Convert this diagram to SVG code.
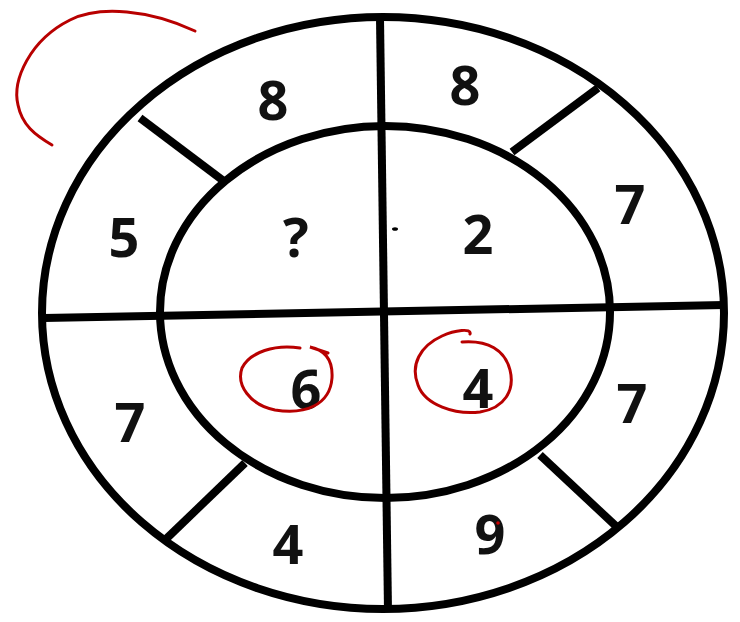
<svg xmlns="http://www.w3.org/2000/svg" width="740" height="622" viewBox="0 0 740 622">
<style>
.k{fill:none;stroke:#000;stroke-width:8;stroke-linecap:butt}
.r{fill:none;stroke:#b80000;stroke-width:3;stroke-linecap:round}
.t{font-family:"Open Sans","Liberation Sans",sans-serif;font-weight:bold;font-size:54px;fill:#111;text-anchor:middle}
</style>
<rect width="740" height="622" fill="#fff"/>
<g id="rings">
<ellipse class="k" cx="383" cy="313" rx="341" ry="296"/>
<ellipse class="k" cx="385" cy="312" rx="225" ry="186"/>
</g>
<g id="lines">
<line class="k" x1="380" y1="18" x2="388" y2="611"/>
<line class="k" x1="44" y1="318" x2="724" y2="305"/>
<line class="k" x1="140" y1="118" x2="225" y2="182"/>
<line class="k" x1="598" y1="88" x2="512" y2="152"/>
<line class="k" x1="245" y1="463" x2="165" y2="540"/>
<line class="k" x1="540" y1="455" x2="618" y2="528"/>
</g>
<g id="numbers">
<text class="t" x="273" y="120">8</text>
<text class="t" x="465" y="105">8</text>
<text class="t" x="124" y="257">5</text>
<text class="t" x="296" y="257">?</text>
<text class="t" x="478" y="254">2</text>
<text class="t" x="630" y="224">7</text>
<text class="t" x="130" y="442">7</text>
<text class="t" x="306" y="409">6</text>
<text class="t" x="478" y="408">4</text>
<text class="t" x="632" y="423">7</text>
<text class="t" x="288" y="564">4</text>
<text class="t" x="490" y="554">9</text>
</g>
<ellipse cx="395" cy="229" rx="3" ry="1.8" fill="#000"/>
<g id="annotations">
<path class="r" d="M195,31 C150,10 100,5 70,20 C30,40 12,80 18,105 C22,125 35,135 52,145"/>
<path class="r" d="M300,348 C275,344 250,352 242,368 C236,385 250,405 275,410 C305,415 330,405 332,378 C333,360 325,350 310,347 L328,353"/>
<path class="r" d="M470,334 C472,328 455,330 442,336 C420,346 410,365 418,385 C425,405 455,415 480,412 C505,408 515,390 510,370 C505,350 488,340 462,342"/>
<circle cx="498" cy="523" r="1.8" fill="#c00"/>
</g>
</svg>
